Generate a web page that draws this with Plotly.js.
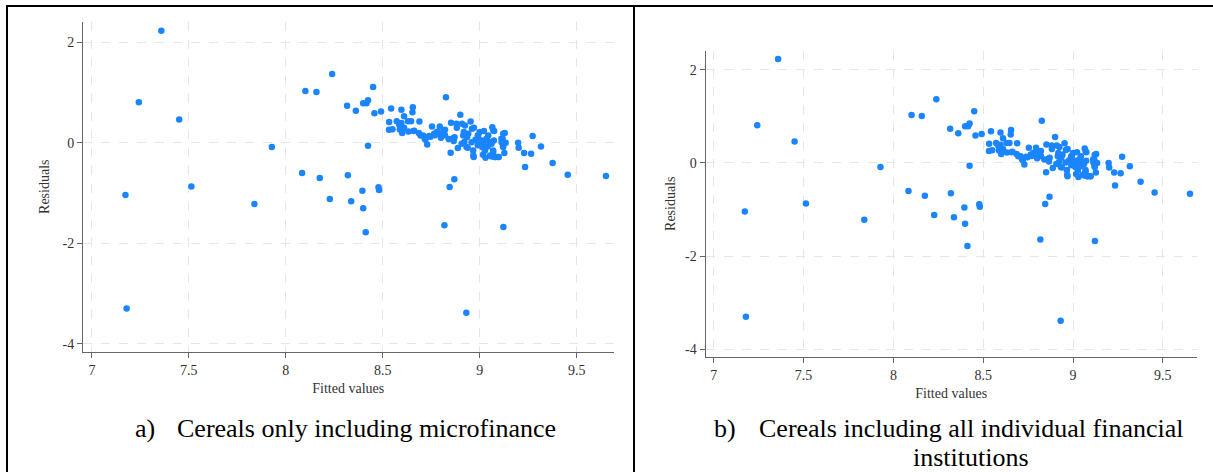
<!DOCTYPE html>
<html>
<head>
<meta charset="utf-8">
<script src="https://cdn.plot.ly/plotly-3.0.1.min.js"></script>
<style>
html,body{margin:0;padding:0;background:#fff;}
#chart{width:1213px;height:472px;}
</style>
</head>
<body>
<div id="chart"></div>
<script>
// Fitted values (x) and residuals (y)
const fittedValues = [
7.173,7.179,7.242,7.358,7.450,7.513,7.838,7.928,8.931,
8.084,8.101,8.158,8.175,8.227,8.239,8.316,8.320,8.337,8.361,8.395,8.399,8.399,8.412,8.416,8.424,8.424,8.450,8.457,8.478,8.481,8.491,8.818,8.845,8.869,9.122,
8.543,8.596,8.655,8.653,8.610,8.533,8.532,8.572,8.589,8.596,8.588,8.600,8.632,8.646,8.662,8.689,8.686,8.708,8.716,8.739,8.729,8.754,8.765,8.794,8.813,8.826,8.821,8.840,8.852,8.866,8.850,8.880,8.900,8.909,8.887,8.918,8.921,8.935,8.953,8.960,8.938,8.966,8.969,8.978,8.990,9.000,9.009,9.013,9.017,9.022,9.034,9.041,9.052,9.065,9.074,9.073,9.069,9.062,9.081,9.098,9.112,9.120,9.129,9.127,9.134,9.198,9.201,9.229,9.234,9.265,9.273,9.316,9.376,9.454,9.651,
8.585,8.658,8.695,8.746,8.769,8.795,8.821,8.863,8.882,8.924,8.941,8.915,8.907,8.932,8.958,8.967,8.992,9.010,9.018,9.027,9.035,9.044,9.070,9.061,9.070,9.078,9.096,9.053,9.121,9.113,9.121,9.118,8.720,8.780,8.800,8.870,8.970,8.990,9.000,9.030,8.550,8.610,8.630
];
const residuals = [
-1.04,-3.30,0.807,2.23,0.463,-0.869,-1.22,-0.087,-3.387,
-0.603,1.03,1.01,-0.702,-1.119,1.37,0.735,-0.649,-1.166,0.636,-0.954,0.788,-1.305,-1.781,0.788,0.848,-0.060,1.11,0.589,-0.887,-0.940,0.623,-1.642,-0.881,-0.728,-1.675,
0.682,0.656,0.709,0.609,0.530,0.411,0.258,0.430,0.344,0.391,0.265,0.192,0.225,0.430,0.238,0.424,0.192,0.146,0.086,0.132,-0.033,0.325,0.179,0.325,0.245,0.907,0.258,0.073,0.397,0.033,-0.199,0.377,0.556,0.377,-0.106,0.212,0.013,0.113,0.424,0.278,-0.099,-0.152,-0.285,0.060,0.146,0.212,0.013,-0.086,-0.238,0.232,0.046,-0.073,0.013,0.311,0.232,0.046,-0.152,-0.272,-0.285,-0.285,0.079,-0.073,0.192,-0.205,0.0,0.0,-0.099,-0.205,-0.483,-0.219,0.132,-0.073,-0.404,-0.636,-0.662,
0.357,0.232,0.145,0.12,0.15,0.18,0.15,0.09,0.30,0.344,0.178,0.145,-0.021,-0.087,0.012,-0.253,0.145,0.046,-0.054,-0.153,0.079,0.145,0.245,-0.021,-0.186,-0.286,-0.286,-0.253,0.178,0.012,-0.087,0.079,0.06,0.22,0.10,0.11,0.30,-0.05,0.05,-0.30,0.27,0.30,0.43
];

const xTickVals = [7, 7.5, 8, 8.5, 9, 9.5];
const xTickText = ["7", "7.5", "8", "8.5", "9", "9.5"];
const yTickVals = [2, 0, -2, -4];
const yTickText = ["2", "0", "-2", "-4"];
const xAxisTitle = "Fitted values";
const yAxisTitle = "Residuals";
const captionA = ["a)", "Cereals only including microfinance"];
const captionB = ["b)", "Cereals including all individual financial", "institutions"];

const W = 1213, H = 472;
const serif = "Liberation Serif, Times New Roman, serif";
const dotColor = "#1a85ff";

function px(x){ return x / W; }
function py(y){ return 1 - y / H; }

function axisX(domain, anchor){
  return {
    domain: domain, anchor: anchor,
    range: [6.954, 9.69],
    tickvals: xTickVals, ticktext: xTickText,
    ticks: "outside", ticklen: 5, tickcolor: "#666", tickwidth: 1,
    showline: true, linecolor: "#666", linewidth: 1,
    showgrid: true, gridcolor: "#e6e6e6", gridwidth: 1, griddash: "dash",
    zeroline: false,
    tickfont: {family: serif, size: 14, color: "#333"},
    title: {text: xAxisTitle, font: {family: serif, size: 14, color: "#333"}, standoff: 6},
    automargin: false, fixedrange: true
  };
}
function axisY(domain, anchor, standoff){
  return {
    domain: domain, anchor: anchor,
    range: [-4.16, 2.41],
    tickvals: yTickVals, ticktext: yTickText,
    ticks: "outside", ticklen: 5, tickcolor: "#666", tickwidth: 1,
    showline: true, linecolor: "#666", linewidth: 1,
    showgrid: true, gridcolor: "#e6e6e6", gridwidth: 1, griddash: "dash",
    zeroline: false,
    tickfont: {family: serif, size: 14, color: "#333"},
    title: {text: yAxisTitle, font: {family: serif, size: 14, color: "#333"}, standoff: standoff},
    automargin: false, fixedrange: true
  };
}

const traces = [
  {x: fittedValues, y: residuals, xaxis: "x", yaxis: "y", type: "scatter", mode: "markers",
   marker: {color: dotColor, size: 6.5}, hoverinfo: "x+y"},
  {x: fittedValues, y: residuals, xaxis: "x2", yaxis: "y2", type: "scatter", mode: "markers",
   marker: {color: dotColor, size: 6.5}, hoverinfo: "x+y"}
];

const capFont = {family: serif, size: 26, color: "#000"};
const layout = {
  width: W, height: H,
  margin: {l: 0, r: 0, t: 0, b: 0},
  paper_bgcolor: "#fff", plot_bgcolor: "#fff",
  showlegend: false,
  xaxis: axisX([px(83), px(613.5)], "y"),
  yaxis: axisY([py(351.7), py(21.7)], "x", 9),
  xaxis2: axisX([px(705.5), px(1197)], "y2"),
  yaxis2: axisY([py(356.7), py(50.7)], "x2", 6),
  shapes: [
    {type: "line", xref: "paper", yref: "paper", x0: px(6), x1: 1, y0: py(6), y1: py(6), line: {color: "#000", width: 2}},
    {type: "line", xref: "paper", yref: "paper", x0: px(7), x1: px(7), y0: 0, y1: py(6), line: {color: "#000", width: 2}},
    {type: "line", xref: "paper", yref: "paper", x0: px(634), x1: px(634), y0: 0, y1: py(6), line: {color: "#000", width: 2}}
  ],
  annotations: [
    {text: captionA[0], xref: "paper", yref: "paper", x: px(133), y: py(428), xanchor: "left", yanchor: "middle", showarrow: false, font: capFont},
    {text: captionA[1], xref: "paper", yref: "paper", x: px(175), y: py(428), xanchor: "left", yanchor: "middle", showarrow: false, font: capFont},
    {text: captionB[0], xref: "paper", yref: "paper", x: px(712), y: py(428), xanchor: "left", yanchor: "middle", showarrow: false, font: capFont},
    {text: captionB[1], xref: "paper", yref: "paper", x: px(757), y: py(428), xanchor: "left", yanchor: "middle", showarrow: false, font: capFont},
    {text: captionB[2], xref: "paper", yref: "paper", x: px(971), y: py(457), xanchor: "center", yanchor: "middle", showarrow: false, font: capFont}
  ]
};

Plotly.newPlot("chart", traces, layout, {displayModeBar: false, staticPlot: true});
</script>
</body>
</html>
